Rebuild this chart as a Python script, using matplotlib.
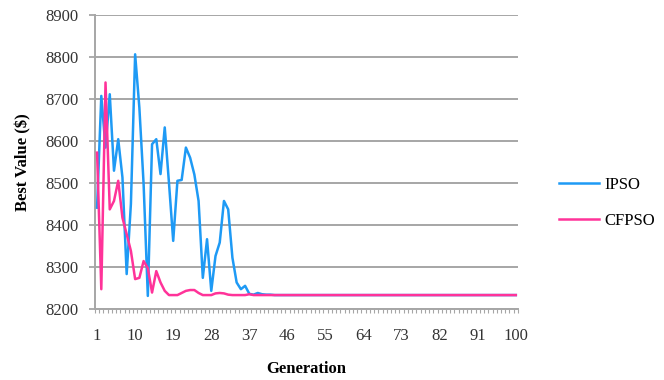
import numpy as np
import matplotlib.pyplot as plt

# best value per generation
ipso = [8441, 8707, 8584, 8711, 8529, 8604, 8513, 8283, 8450, 8806,
        8679, 8498, 8231, 8592, 8604, 8521, 8632, 8500, 8362, 8505,
        8507, 8584, 8560, 8520, 8457, 8274, 8366, 8243, 8326, 8358,
        8457, 8437, 8322, 8263, 8247, 8255, 8236, 8234, 8238, 8235,
        8234, 8234, 8233, 8233, 8233, 8233, 8233, 8233, 8233, 8233,
        8233, 8233, 8233, 8233, 8233, 8233, 8233, 8233, 8233, 8233,
        8233, 8233, 8233, 8233, 8233, 8233, 8233, 8233, 8233, 8233,
        8233, 8233, 8233, 8233, 8233, 8233, 8233, 8233, 8233, 8233,
        8233, 8233, 8233, 8233, 8233, 8233, 8233, 8233, 8233, 8233,
        8233, 8233, 8233, 8233, 8233, 8233, 8233, 8233, 8233, 8233]
cfpso = [8572, 8247, 8739, 8437, 8457, 8505, 8417, 8378, 8338, 8271,
         8274, 8314, 8297, 8239, 8290, 8263, 8243, 8233, 8233, 8233,
         8238, 8243, 8245, 8245, 8238, 8233, 8233, 8233, 8237, 8238,
         8237, 8234, 8233, 8233, 8233, 8233, 8235, 8233, 8233, 8233,
         8233, 8233, 8233, 8233, 8233, 8233, 8233, 8233, 8233, 8233,
         8233, 8233, 8233, 8233, 8233, 8233, 8233, 8233, 8233, 8233,
         8233, 8233, 8233, 8233, 8233, 8233, 8233, 8233, 8233, 8233,
         8233, 8233, 8233, 8233, 8233, 8233, 8233, 8233, 8233, 8233,
         8233, 8233, 8233, 8233, 8233, 8233, 8233, 8233, 8233, 8233,
         8233, 8233, 8233, 8233, 8233, 8233, 8233, 8233, 8233, 8233]
gens = np.arange(1, 101)
xlabels = [1, 10, 19, 28, 37, 46, 55, 64, 73, 82, 91, 100]
yticks = [8200, 8300, 8400, 8500, 8600, 8700, 8800, 8900]

plt.rcParams['font.family'] = ['Liberation Serif', 'DejaVu Serif']
grey = '#a6a6a6'

fig = plt.figure(figsize=(6.64, 3.8), dpi=100)
ax = fig.add_axes([0.143, 0.187, 0.637, 0.774])

ax.plot(gens, ipso, color='#1e9af5', lw=1.8, label='IPSO', zorder=3)
ax.plot(gens, cfpso, color='#ff3399', lw=1.8, label='CFPSO', zorder=4)

ax.set_xlim(0.5, 100.5)
ax.set_ylim(8200, 8900)
ax.set_yticks(yticks)
ax.set_xticks(xlabels)
ax.set_xticks(np.arange(0.5, 101, 1), minor=True)
ax.tick_params(axis='x', which='major', length=0, pad=14, labelsize=12)
ax.tick_params(axis='x', which='minor', length=3, width=0.8, color=grey, direction='out')
ax.tick_params(axis='y', length=4, width=1.3, color=grey, labelsize=12, pad=8)
for lab in ax.get_xticklabels() + ax.get_yticklabels():
    lab.set_color('#333333')

ax.grid(axis='y', color=grey, lw=1.4, zorder=1)
for s in ['top', 'right']:
    ax.spines[s].set_visible(False)
ax.spines['left'].set_color(grey)
ax.spines['left'].set_linewidth(1.4)
ax.spines['bottom'].set_color(grey)
ax.spines['bottom'].set_linewidth(1.4)

ax.set_xlabel('Generation', fontsize=12, fontweight='bold', labelpad=12)
ax.set_ylabel('Best Value ($)', fontsize=12, fontweight='bold', labelpad=10)

fig.legend(loc='center left', bbox_to_anchor=(0.82, 0.465), frameon=False,
           fontsize=12, handlelength=2.4, handletextpad=0.3, labelspacing=1.2)

fig.savefig('out.png', dpi=100)
